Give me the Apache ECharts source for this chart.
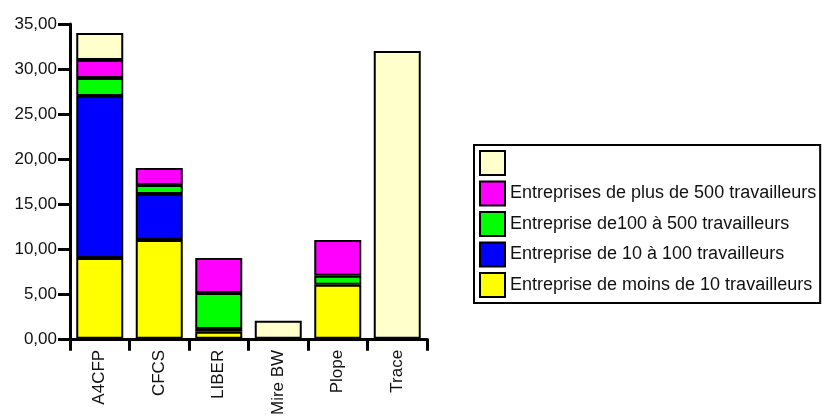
<!DOCTYPE html>
<html>
<head>
<meta charset="utf-8">
<script src="https://cdn.jsdelivr.net/npm/echarts@6/dist/echarts.min.js"></script>
<style>
  html, body { margin: 0; padding: 0; background: #fff; }
  #chart { width: 833px; height: 418px; }
</style>
</head>
<body>
<div id="chart"></div>
<script>
const categories = ['A4CFP', 'CFCS', 'LIBER', 'Mire BW', 'Plope', 'Trace'];

const moins10 = [9.0, 11.0, 0.8, null, 6.0, null];
const de10a100 = [18.0, 5.1, 0.3, null, null, null];
const de100a500 = [2.0, 1.0, 4.0, null, 1.0, null];
const plus500 = [2.0, 1.9, 3.9, null, 4.0, null];
const autres = [3.0, null, null, 2.0, null, 32.0];

const seriesNames = [
  'Entreprise de moins de 10 travailleurs',
  'Entreprise de 10 à 100 travailleurs',
  'Entreprise de100 à 500 travailleurs',
  'Entreprises de plus de 500 travailleurs',
  ' '
];
const seriesColors = ['#ffff00', '#0000ff', '#00ff00', '#ff00ff', '#ffffcc'];
const seriesData = [moins10, de10a100, de100a500, plus500, autres];

const yTicks = { min: 0, max: 35, interval: 5 };

const chart = echarts.init(document.getElementById('chart'));
const font = 'Liberation Sans, Arial, sans-serif';

const options = {
  animation: false,
  grid: { left: 70, top: 24, width: 357, bottom: 76 },
  legend: {
    orient: 'vertical',
    left: 474,
    top: 145,
    data: seriesNames.slice().reverse(),
    icon: 'rect',
    itemWidth: 25,
    itemHeight: 24,
    itemGap: 4.5,
    itemTextGap: 12,
    padding: [5, 4, 5, 5],
    borderColor: '#000',
    borderWidth: 2,
    textStyle: { fontFamily: font, fontSize: 18, color: '#111' }
  },
  xAxis: {
    type: 'category',
    data: categories,
    axisLine: { lineStyle: { color: '#000', width: 3 } },
    axisTick: { show: true, length: 12, lineStyle: { color: '#000', width: 3 } },
    axisLabel: {
      rotate: 90,
      margin: 11,
      interval: 0,
      fontFamily: font,
      fontSize: 17,
      color: '#111'
    }
  },
  yAxis: {
    type: 'value',
    min: yTicks.min,
    max: yTicks.max,
    interval: yTicks.interval,
    splitLine: { show: false },
    axisLine: { show: true, lineStyle: { color: '#000', width: 3 } },
    axisTick: { show: true, length: 12, lineStyle: { color: '#000', width: 3 } },
    axisLabel: {
      margin: 13,
      fontFamily: font,
      fontSize: 17,
      color: '#111',
      formatter: v => v.toFixed(2).replace('.', ',')
    }
  },
  series: seriesNames.map((name, i) => ({
    name: name,
    type: 'bar',
    stack: 'total',
    barWidth: '79%',
    data: seriesData[i],
    itemStyle: { color: seriesColors[i], borderColor: '#000', borderWidth: 2 }
  }))
};

chart.setOption(options);
</script>
</body>
</html>
